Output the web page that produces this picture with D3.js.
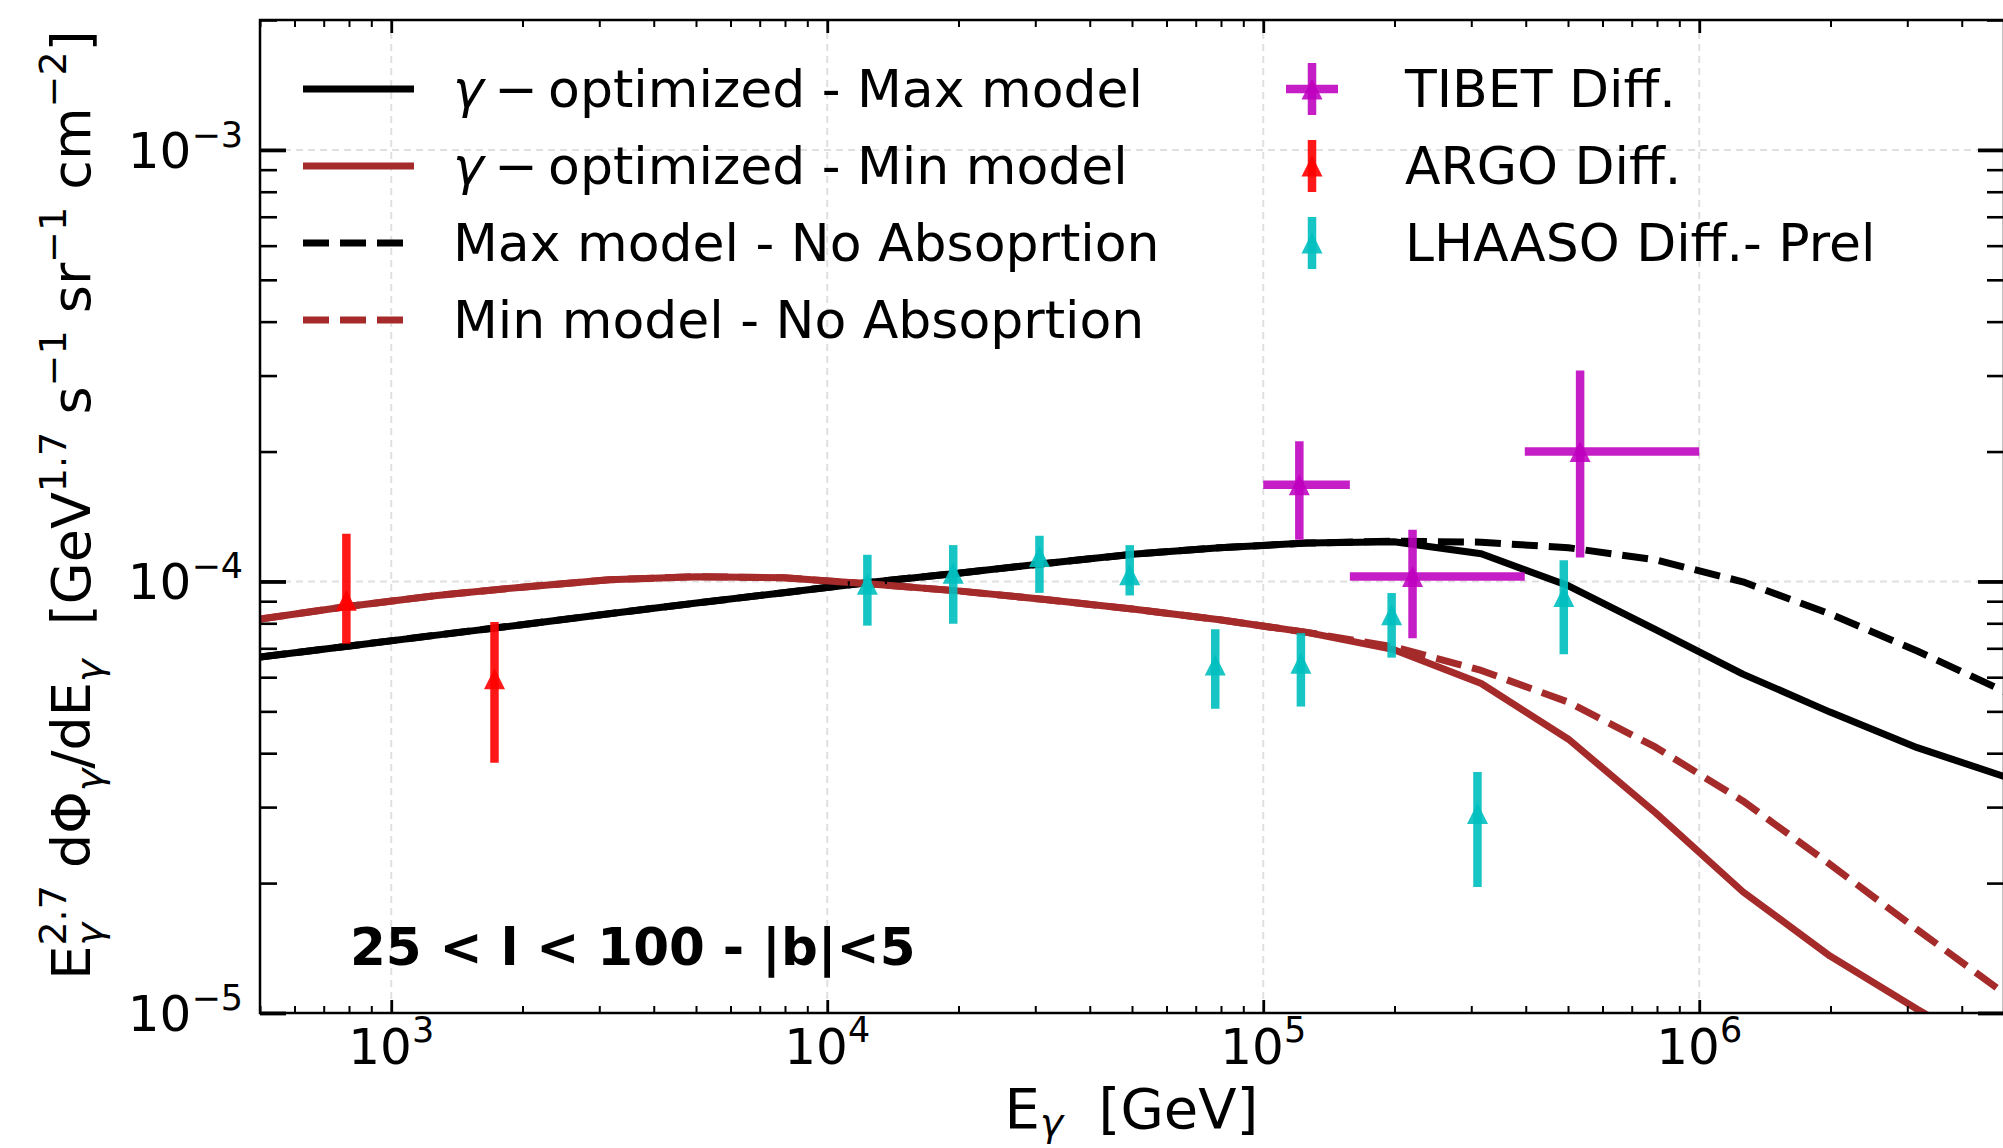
<!DOCTYPE html>
<html lang="en">
<head>
<meta charset="utf-8">
<script src="https://d3js.org/d3.v7.min.js"></script>
<title>Diffuse gamma-ray spectrum</title>
<style>
  body { margin: 0; background: #fff; }
  svg { display: block; font-family: "DejaVu Sans", sans-serif; }
  text { white-space: pre; }
</style>
</head>
<body>
<div id="chart"></div>
<script>
// model curves on a common energy grid (GeV)
const energy = [501, 794, 1259, 1995, 3162, 5012, 7943, 12589, 19953, 31623, 50119, 79433,
  125893, 199526, 316228, 501187, 794328, 1258925, 1995262, 3162278, 5011872];
const maxModel = [6.68e-5, 7.08e-5, 7.50e-5, 7.94e-5, 8.42e-5, 8.91e-5, 9.42e-5, 9.96e-5, 1.045e-4, 1.10e-4,
  1.156e-4, 1.197e-4, 1.227e-4, 1.236e-4, 1.159e-4, 9.77e-5, 7.73e-5, 6.10e-5, 4.98e-5, 4.12e-5, 3.53e-5];
const minModel = [8.18e-5, 8.75e-5, 9.27e-5, 9.70e-5, 1.009e-4, 1.026e-4, 1.020e-4, 9.86e-5, 9.51e-5, 9.08e-5,
  8.63e-5, 8.15e-5, 7.62e-5, 6.95e-5, 5.80e-5, 4.31e-5, 2.91e-5, 1.91e-5, 1.355e-5, 1.02e-5, 7.8e-6];
const maxNoAbs = [6.68e-5, 7.08e-5, 7.50e-5, 7.94e-5, 8.42e-5, 8.91e-5, 9.42e-5, 9.96e-5, 1.045e-4, 1.10e-4,
  1.156e-4, 1.197e-4, 1.227e-4, 1.24e-4, 1.233e-4, 1.197e-4, 1.122e-4, 9.98e-5, 8.41e-5, 6.90e-5, 5.56e-5];
const minNoAbs = [8.18e-5, 8.75e-5, 9.27e-5, 9.70e-5, 1.009e-4, 1.026e-4, 1.020e-4, 9.86e-5, 9.51e-5, 9.08e-5,
  8.63e-5, 8.15e-5, 7.62e-5, 7.05e-5, 6.22e-5, 5.25e-5, 4.13e-5, 3.10e-5, 2.21e-5, 1.56e-5, 1.11e-5];

// measurements
const tibetE = [121000, 220000, 533000];
const tibetEmin = [100000, 158000, 398000];
const tibetEmax = [158000, 398000, 1000000];
const tibetF = [1.676e-4, 1.027e-4, 2.0e-4];
const tibetLo = [1.249e-4, 7.39e-5, 1.137e-4];
const tibetHi = [2.113e-4, 1.318e-4, 3.08e-4];

const argoE = [789, 1725];
const argoF = [9.05e-5, 5.95e-5];
const argoLo = [7.17e-5, 3.8e-5];
const argoHi = [1.29e-4, 8.05e-5];

const lhaasoE = [12360, 19450, 30670, 49400, 77600, 122000, 197000, 310000, 489000];
const lhaasoF = [9.85e-5, 1.045e-4, 1.143e-4, 1.036e-4, 6.4e-5, 6.46e-5, 8.37e-5, 2.9e-5, 9.23e-5];
const lhaasoLo = [7.9e-5, 7.98e-5, 9.41e-5, 9.28e-5, 5.07e-5, 5.13e-5, 6.66e-5, 1.96e-5, 6.78e-5];
const lhaasoHi = [1.153e-4, 1.214e-4, 1.276e-4, 1.214e-4, 7.75e-5, 7.59e-5, 9.4e-5, 3.62e-5, 1.12e-4];

// axes
const xMajor = [1e3, 1e4, 1e5, 1e6];
const xMajorExp = ["3", "4", "5", "6"];
const yMajor = [1e-5, 1e-4, 1e-3];
const yMajorExp = ["\u22125", "\u22124", "\u22123"];

const W = 2003, H = 1148;
const box = {left: 260, right: 2004, top: 20, bottom: 1013};

const svg = d3.select('#chart').append('svg')
  .attr('width', W).attr('height', H);

const x = d3.scaleLog().domain([500, 5e6]).range([box.left, box.right]);
const y = d3.scaleLog().domain([1e-5, 2e-3]).range([box.bottom, box.top]);

const xMinor = [];
for (let d = 100; d <= 1e6; d *= 10)
  for (let k = 2; k <= 9; k++) if (d * k >= 500 && d * k <= 5e6) xMinor.push(d * k);
const yMinor = [];
for (let d = 1e-5; d <= 1e-3; d *= 10)
  for (let k = 2; k <= 9; k++) if (d * k <= 2e-3) yMinor.push(d * k);

svg.append('defs').append('clipPath').attr('id', 'clip')
  .append('rect')
  .attr('x', box.left).attr('y', box.top)
  .attr('width', box.right - box.left).attr('height', box.bottom - box.top);

// grid
const grid = svg.append('g');
grid.selectAll('.gx').data(xMajor).enter().append('line')
  .attr('x1', d => x(d)).attr('x2', d => x(d))
  .attr('y1', box.top).attr('y2', box.bottom);
grid.selectAll('.gy').data(yMajor).enter().append('line')
  .attr('y1', d => y(d)).attr('y2', d => y(d))
  .attr('x1', box.left).attr('x2', box.right);
grid.selectAll('line')
  .attr('stroke', '#e0e0e0').attr('stroke-width', 2).attr('stroke-dasharray', '7,5');

// model lines
const line = d3.line().x(d => x(d[0])).y(d => y(d[1]));
const curves = svg.append('g').attr('clip-path', 'url(#clip)');
const series = [
  {vals: maxModel, color: '#000000', dash: null},
  {vals: minModel, color: '#a52a2a', dash: null},
  {vals: maxNoAbs, color: '#000000', dash: '26,11'},
  {vals: minNoAbs, color: '#a52a2a', dash: '26,11'}
];
series.forEach(s => {
  curves.append('path')
    .datum(energy.map((e, i) => [e, s.vals[i]]))
    .attr('d', line)
    .attr('fill', 'none')
    .attr('stroke', s.color)
    .attr('stroke-width', 7)
    .attr('stroke-linejoin', 'round')
    .attr('stroke-dasharray', s.dash);
});

// error bars
const tri = r => `M0,${-r}L${r},${r}L${-r},${r}Z`;
function errorbars(E, F, lo, hi, color, alpha, emin, emax) {
  const g = svg.append('g').attr('clip-path', 'url(#clip)');
  E.forEach((e, i) => {
    g.append('line')
      .attr('x1', x(e)).attr('x2', x(e))
      .attr('y1', y(lo[i])).attr('y2', y(hi[i]))
      .attr('stroke', color).attr('stroke-width', 8.5).attr('opacity', alpha);
    if (emin) {
      g.append('line')
        .attr('x1', x(emin[i])).attr('x2', x(emax[i]))
        .attr('y1', y(F[i])).attr('y2', y(F[i]))
        .attr('stroke', color).attr('stroke-width', 8.5).attr('opacity', alpha);
    }
    g.append('path')
      .attr('d', tri(10.5))
      .attr('transform', `translate(${x(e)},${y(F[i])})`)
      .attr('fill', color).attr('opacity', alpha);
  });
}
errorbars(tibetE, tibetF, tibetLo, tibetHi, '#bf00bf', 0.88, tibetEmin, tibetEmax);
errorbars(argoE, argoF, argoLo, argoHi, '#ff0000', 0.9);
errorbars(lhaasoE, lhaasoF, lhaasoLo, lhaasoHi, '#00bfbf', 0.9);

// ticks (all inward)
function ticks(axis, vals, size, width, tx) {
  const g = svg.append('g').attr('transform', tx)
    .call(axis.tickValues(vals).tickSize(-size).tickFormat(''));
  g.select('.domain').remove();
  g.selectAll('line').attr('stroke', '#000').attr('stroke-width', width);
}
ticks(d3.axisBottom(x), xMajor, 13, 2.8, `translate(0,${box.bottom})`);
ticks(d3.axisBottom(x), xMinor, 7, 2, `translate(0,${box.bottom})`);
ticks(d3.axisTop(x), xMajor, 13, 2.8, `translate(0,${box.top})`);
ticks(d3.axisTop(x), xMinor, 7, 2, `translate(0,${box.top})`);
ticks(d3.axisLeft(y), yMajor, 26, 3.8, `translate(${box.left},0)`);
ticks(d3.axisLeft(y), yMinor, 17, 2.6, `translate(${box.left},0)`);
ticks(d3.axisRight(y), yMajor, 26, 3.8, `translate(${box.right},0)`);
ticks(d3.axisRight(y), yMinor, 17, 2.6, `translate(${box.right},0)`);

svg.append('rect')
  .attr('x', box.left).attr('y', box.top)
  .attr('width', box.right - box.left).attr('height', box.bottom - box.top)
  .attr('fill', 'none').attr('stroke', '#000').attr('stroke-width', 2.5);

// tick labels
xMajor.forEach((v, i) => {
  const t = svg.append('text')
    .attr('x', x(v)).attr('y', 1064)
    .attr('text-anchor', 'middle').attr('font-size', 50);
  t.append('tspan').text('10');
  t.append('tspan').attr('font-size', 35).attr('dy', -22).text(xMajorExp[i]);
});
yMajor.forEach((v, i) => {
  const t = svg.append('text')
    .attr('x', 243).attr('y', y(v) + 18)
    .attr('text-anchor', 'end').attr('font-size', 50);
  t.append('tspan').text('10');
  t.append('tspan').attr('font-size', 35).attr('dy', -21).text(yMajorExp[i]);
});

// axis labels
const xl = svg.append('text')
  .attr('x', (box.left + 2003) / 2).attr('y', 1128)
  .attr('text-anchor', 'middle').attr('font-size', 56);
xl.append('tspan').text('E');
xl.append('tspan').attr('font-size', 39).attr('font-style', 'italic').attr('dy', 8).text('\u03b3');
xl.append('tspan').attr('dy', -8).text('  [GeV]');

const yl = svg.append('text')
  .attr('transform', 'translate(90,505) rotate(-90)')
  .attr('text-anchor', 'middle').attr('font-size', 54);
const s27 = 1.59 * 38, sg = 0.592 * 38;
yl.append('tspan').text('E');
yl.append('tspan').attr('font-size', 38).attr('dy', -24).text('2.7');
yl.append('tspan').attr('font-size', 38).attr('font-style', 'italic').attr('dx', -s27).attr('dy', 36).text('\u03b3');
yl.append('tspan').attr('dx', s27 - sg).attr('dy', -12).text(' d\u03a6');
yl.append('tspan').attr('font-size', 38).attr('font-style', 'italic').attr('dy', 12).text('\u03b3');
yl.append('tspan').attr('dy', -12).text('/dE');
yl.append('tspan').attr('font-size', 38).attr('font-style', 'italic').attr('dy', 12).text('\u03b3');
yl.append('tspan').attr('dy', -12).text('  [GeV');
yl.append('tspan').attr('font-size', 38).attr('dy', -24).text('1.7');
yl.append('tspan').attr('dy', 24).text(' s');
yl.append('tspan').attr('font-size', 38).attr('dy', -24).text('\u22121');
yl.append('tspan').attr('dy', 24).text(' sr');
yl.append('tspan').attr('font-size', 38).attr('dy', -24).text('\u22121');
yl.append('tspan').attr('dy', 24).text(' cm');
yl.append('tspan').attr('font-size', 38).attr('dy', -24).text('\u22122');
yl.append('tspan').attr('dy', 24).text(']');

// region annotation
svg.append('text')
  .attr('x', 350).attr('y', 965)
  .attr('font-size', 51.5).attr('font-weight', 'bold')
  .text('25 < l < 100 - |b|<5');

// legend
const legLines = [
  {color: '#000000', dash: null, gamma: true, label: '\u2009\u2212\u2009optimized - Max model'},
  {color: '#a52a2a', dash: null, gamma: true, label: '\u2009\u2212\u2009optimized - Min model'},
  {color: '#000000', dash: '26,11', gamma: false, label: 'Max model - No Absoprtion'},
  {color: '#a52a2a', dash: '26,11', gamma: false, label: 'Min model - No Absoprtion'}
];
const rowY = [89, 166, 243, 320];
const leg = svg.append('g');
legLines.forEach((d, i) => {
  leg.append('line')
    .attr('x1', 303).attr('x2', 414).attr('y1', rowY[i]).attr('y2', rowY[i])
    .attr('stroke', d.color).attr('stroke-width', 7).attr('stroke-dasharray', d.dash);
  const t = leg.append('text').attr('x', 453).attr('y', rowY[i] + 18).attr('font-size', 52);
  if (d.gamma) t.append('tspan').attr('font-style', 'italic').text('\u03b3');
  t.append('tspan').text(d.label);
});
const legPts = [
  {color: '#bf00bf', alpha: 0.88, cross: true, label: 'TIBET Diff.'},
  {color: '#ff0000', alpha: 0.9, cross: false, label: 'ARGO Diff.'},
  {color: '#00bfbf', alpha: 0.9, cross: false, label: 'LHAASO Diff.- Prel'}
];
legPts.forEach((d, i) => {
  const cx = 1312, cy = rowY[i];
  leg.append('line').attr('x1', cx).attr('x2', cx).attr('y1', cy - 26).attr('y2', cy + 26)
    .attr('stroke', d.color).attr('stroke-width', 8.5).attr('opacity', d.alpha);
  if (d.cross) {
    leg.append('line').attr('x1', cx - 26).attr('x2', cx + 26).attr('y1', cy).attr('y2', cy)
      .attr('stroke', d.color).attr('stroke-width', 8.5).attr('opacity', d.alpha);
  }
  leg.append('path').attr('d', tri(10.5)).attr('transform', `translate(${cx},${cy})`)
    .attr('fill', d.color).attr('opacity', d.alpha);
  leg.append('text').attr('x', 1405).attr('y', cy + 18).attr('font-size', 52).text(d.label);
});
</script>
</body>
</html>
